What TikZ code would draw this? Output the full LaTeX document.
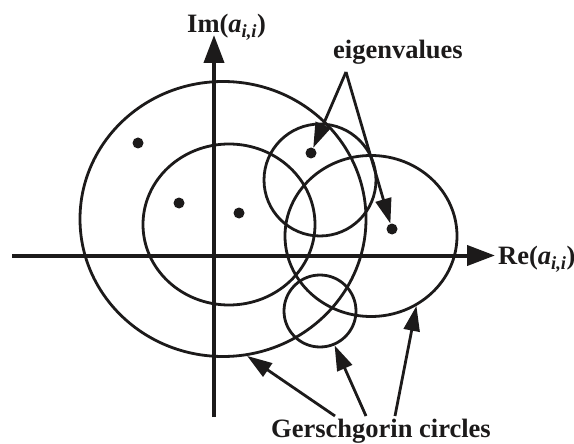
\documentclass[tikz,border=0pt]{standalone}
\usepackage{xcolor}
\usepackage{tikz}
\usepackage{fontspec}
\setmainfont{Liberation Serif}
\usetikzlibrary{
  arrows.meta,
  shapes.geometric,
  positioning
}
\definecolor{gcInk}{HTML}{1C1A1A}
\tikzset{
  gcircle/.style={
    draw=gcInk, ellipse, line width=2.8pt, inner sep=0pt
  },
  eig/.style={circle, fill=gcInk, inner sep=0pt, minimum size=11pt},
  axisline/.style={-{Triangle[length=28pt, width=20pt]}, line width=4pt, draw=gcInk, fill=gcInk},
  pointer/.style={-{Triangle[length=25pt, width=16pt]}, line width=2.8pt, draw=gcInk, fill=gcInk},
  lbl/.style={font=\fontsize{26.5}{30}\selectfont\bfseries, text=gcInk, inner sep=0pt, anchor=base west}
}

\begin{document}
\begin{tikzpicture}[x=1pt, y=-1pt]
  \useasboundingbox (0,0) rectangle (574,444);
  % axes
  \coordinate (xl) at (12,255.5);
  \coordinate (xr) at (495,255.5);
  \coordinate (yb) at (214,417);
  \coordinate (yt) at (214,35);
  \draw[axisline] (xl) -- (xr);
  \draw[axisline] (yb) -- (yt);
  \node[lbl] (relbl) at (498,265) {Re(\textit{a}\textsubscript{\textit{i,i}})};
  \node[lbl] (imlbl) at (187,33) {Im(\textit{a}\textsubscript{\textit{i,i}})};
  % Gerschgorin circles
  \node[gcircle, minimum width=286pt, minimum height=275pt] (big) at (223,219) {};
  \node[gcircle, minimum width=172pt, minimum height=161pt] (mid) at (229,224.5) {};
  \node[gcircle, minimum width=112pt, minimum height=112pt] (top) at (320,180) {};
  \node[gcircle, minimum width=172pt, minimum height=161pt] (right) at (371,236) {};
  \node[gcircle, minimum width=72pt, minimum height=72pt] (small) at (320,311) {};
  % eigenvalues
  \node[eig] (e1) at (138,143) {};
  \node[eig] (e2) at (179,203) {};
  \node[eig] (e3) at (239,213) {};
  \node[eig] (e4) at (311,153) {};
  \node[eig] (e5) at (392,229) {};
  \node[lbl] (eiglbl) at (333,59) {eigenvalues};
  \coordinate (fork) at (346,72);
  \draw[pointer] (fork) -- (e4);
  \draw[pointer] (fork) -- (e5);
  \node[lbl] (gerlbl) at (271,437) {Gerschgorin circles};
  \coordinate (g1) at (335,416);
  \coordinate (g2) at (366,416);
  \coordinate (g3) at (395,416);
  \draw[pointer] (g1) -- (big.-80);
  \draw[pointer] (g2) -- (small.-67);
  \draw[pointer] (g3) -- (right.-57);
\end{tikzpicture}
\end{document}
